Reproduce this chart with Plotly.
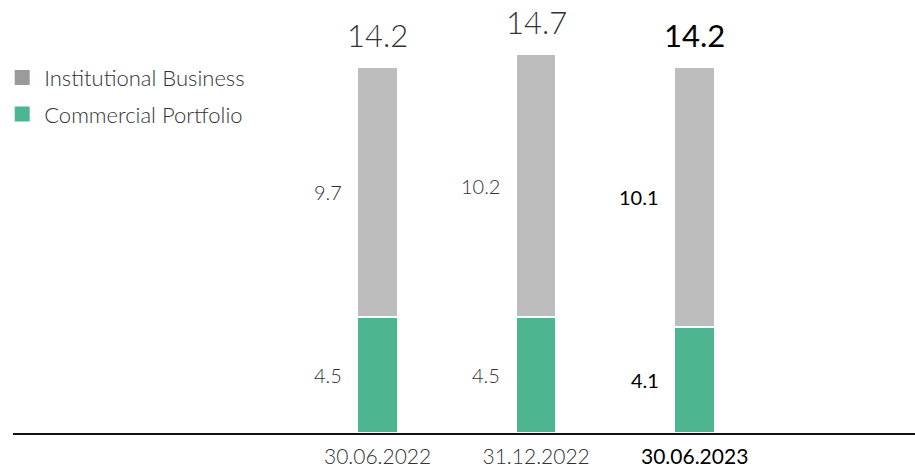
import plotly.graph_objects as go

categories = ["30.06.2022", "31.12.2022", "30.06.2023"]
commercial = [4.5, 4.5, 4.1]
institutional = [9.7, 10.2, 10.1]
totals = [14.2, 14.7, 14.2]
series_names = ["Commercial Portfolio", "Institutional Business"]

GREEN = "#4db590"
GRAY = "#bdbdbd"
GRAY_LEG = "#9b9b9b"
FONT = "Lato"

xs = list(range(len(categories)))
highlight = [False, False, True]

fig = go.Figure()
fig.add_trace(go.Bar(x=xs, y=commercial, name=series_names[0], marker_color=GREEN,
                     marker_line_color="white", marker_line_width=2.5, width=0.255,
                     showlegend=False))
fig.add_trace(go.Bar(x=xs, y=institutional, name=series_names[1], marker_color=GRAY,
                     marker_line_color="white", marker_line_width=2.5, width=0.255,
                     showlegend=False))
# legend-only entries (Institutional first)
fig.add_trace(go.Scatter(x=[None], y=[None], mode="markers", name=series_names[1],
                         legendgroup="a",
                         marker=dict(symbol="square", size=15, color=GRAY_LEG)))
fig.add_trace(go.Scatter(x=[None], y=[None], mode="markers", name=series_names[0],
                         legendgroup="b",
                         marker=dict(symbol="square", size=15, color=GREEN)))

annotations = []
for i, cat in enumerate(categories):
    hl = highlight[i]
    col = "#000000" if hl else "#333333"
    w = 400 if hl else 300
    annotations.append(dict(x=i, y=commercial[i] / 2, text=f"{commercial[i]:.1f}", showarrow=False,
                            xanchor="right", xshift=-34, yanchor="middle",
                            font=dict(family=FONT, size=20, color=col, weight=w)))
    annotations.append(dict(x=i, y=commercial[i] + institutional[i] / 2, text=f"{institutional[i]:.1f}",
                            showarrow=False, xanchor="right", xshift=-34, yanchor="middle",
                            font=dict(family=FONT, size=20, color=col, weight=w)))
    annotations.append(dict(x=i, y=totals[i], text=f"{totals[i]:.1f}", showarrow=False,
                            xanchor="center", yanchor="bottom", yshift=11,
                            font=dict(family=FONT, size=31, color=col, weight=w)))

ticktext = []
for i, cat in enumerate(categories):
    if highlight[i]:
        ticktext.append(f'<span style="font-weight:400;fill:#000000">{cat}</span>')
    else:
        ticktext.append(cat)

fig.update_layout(
    width=915, height=467,
    margin=dict(l=13, r=0, t=0, b=34),
    paper_bgcolor="white", plot_bgcolor="white",
    barmode="stack",
    font=dict(family=FONT, size=20, color="#333333", weight=300),
    xaxis=dict(range=[-2.30, 3.39], tickvals=xs, ticktext=ticktext, showgrid=False,
               zeroline=False, showline=True, linecolor="#111111", linewidth=2,
               ticks="", ticklabelstandoff=4, automargin=False,
               tickfont=dict(family=FONT, size=21, color="#333333", weight=300)),
    yaxis=dict(range=[0, 16.8], visible=False, showgrid=False, zeroline=False,
               automargin=False),
    legend=dict(x=-0.0142, y=0.869, xanchor="left", yanchor="top", traceorder="grouped",
                font=dict(family=FONT, size=22, color="#333333", weight=300),
                itemsizing="trace", itemwidth=34, tracegroupgap=5, bgcolor="rgba(0,0,0,0)"),
    annotations=annotations,
    bargap=0,
)

fig.write_html("out.html", config={"displayModeBar": False},
               post_script="document.body.style.margin='0';document.body.style.padding='0';document.body.style.overflow='hidden';")
